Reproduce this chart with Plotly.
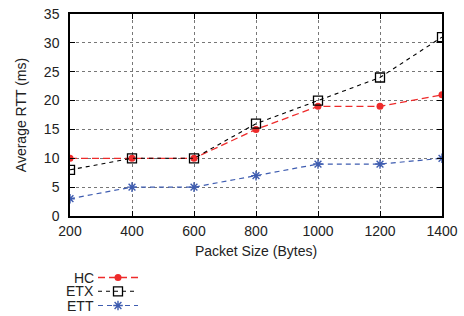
import plotly.graph_objects as go

packet_sizes = [200, 400, 600, 800, 1000, 1200, 1400]
hc = [10, 10, 10, 15, 19, 19, 21]
etx = [8, 10, 10, 16, 20, 24, 31]
ett = [3, 5, 5, 7, 9, 9, 10]
series_names = ["HC", "ETX", "ETT"]
y_ticks = [0, 5, 10, 15, 20, 25, 30, 35]

RED = "#ee2b2b"
BLUE = "#3e5cb0"
FONT = "Liberation Sans, Arial, sans-serif"
TXT = "#222"

PL, PR, PT, PB = 70, 442, 14, 216
PW, PH = PR - PL, PB - PT

def px_x(x):
    return (x - PL) / PW

def px_y(y):
    return (PB - y) / PH

fig = go.Figure()
fig.add_trace(go.Scatter(x=packet_sizes, y=hc, mode="lines+markers", name=" ", legend="legend",
                         line=dict(color=RED, width=1.3, dash="7px,4px"),
                         marker=dict(symbol="circle", size=7, color=RED)))
fig.add_trace(go.Scatter(x=packet_sizes, y=etx, mode="lines+markers", name=" ", legend="legend2",
                         line=dict(color="black", width=1.1, dash="4px,4px"),
                         marker=dict(symbol="square-open", size=9, color="black",
                                     line=dict(width=1.3, color="black"))))
fig.add_trace(go.Scatter(x=packet_sizes, y=ett, mode="lines+markers", name=" ", legend="legend3",
                         line=dict(color=BLUE, width=1.2, dash="5px,4px"),
                         marker=dict(symbol="asterisk-open", size=8, color=BLUE,
                                     line=dict(width=1.4, color=BLUE))))

axis_common = dict(showline=True, linecolor="black", linewidth=1.5, mirror="allticks",
                   ticks="inside", ticklen=5, tickcolor="black",
                   showgrid=True, gridcolor="#777", griddash="dot", gridwidth=1,
                   zeroline=False, automargin=False,
                   tickfont=dict(size=14, color=TXT, family=FONT))

fig.update_xaxes(range=[200, 1400], tickvals=packet_sizes, ticklabelstandoff=1,
                 title=dict(text="Packet Size (Bytes)", font=dict(size=14, color=TXT, family=FONT),
                            standoff=9),
                 **axis_common)
fig.update_yaxes(range=[0, 35], tickvals=y_ticks, ticklabelstandoff=6,
                 title=dict(text="Average RTT (ms)", font=dict(size=14, color=TXT, family=FONT),
                            standoff=14),
                 **axis_common)

legend_rows = [277.5, 291.3, 305.5]
for i, name in enumerate(series_names):
    fig.add_annotation(text=name, xref="paper", yref="paper", x=px_x(96),
                       y=px_y(legend_rows[i]), xanchor="right", yanchor="middle",
                       showarrow=False, font=dict(size=14, color=TXT, family=FONT))

legend_common = dict(xanchor="left", yanchor="middle", font=dict(size=9), itemwidth=40,
                     bgcolor="rgba(0,0,0,0)", borderwidth=0)

fig.update_layout(
    width=464, height=316,
    margin=dict(l=PL, r=464 - PR, t=PT, b=316 - PB, autoexpand=False),
    paper_bgcolor="white", plot_bgcolor="white",
    font=dict(family=FONT, size=14, color=TXT),
    legend=dict(x=px_x(93), y=px_y(legend_rows[0]), **legend_common),
    legend2=dict(x=px_x(93), y=px_y(legend_rows[1]), **legend_common),
    legend3=dict(x=px_x(93), y=px_y(legend_rows[2]), **legend_common),
    showlegend=True,
)

fig.write_html("out.html", config={"displayModeBar": False},
               post_script="document.body.style.margin='0';")
